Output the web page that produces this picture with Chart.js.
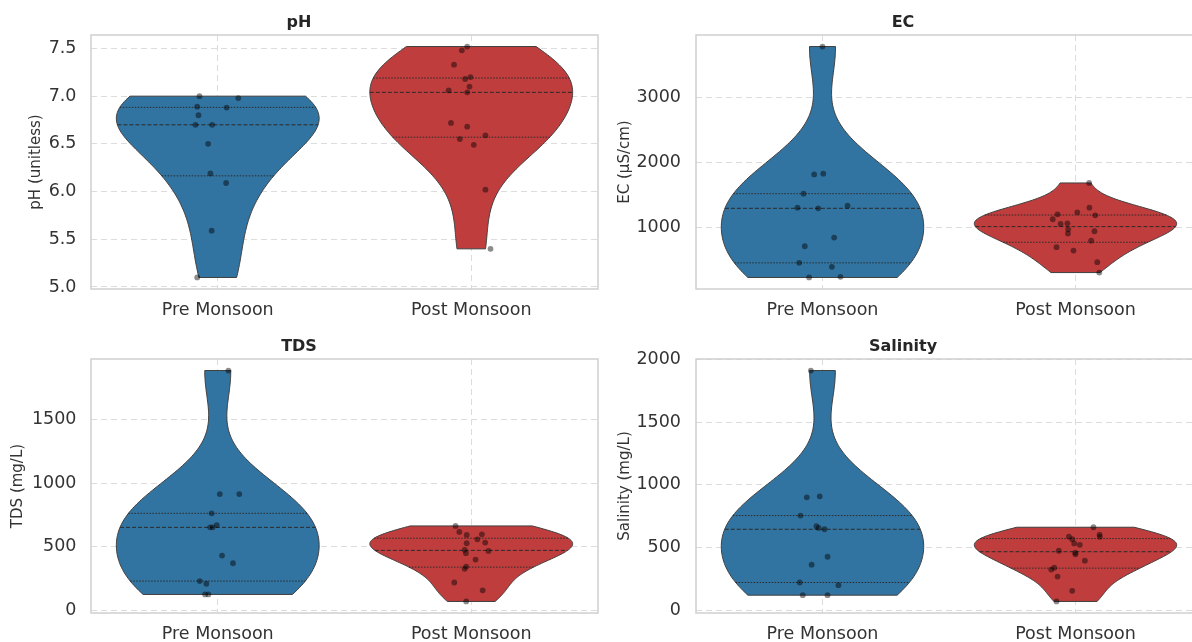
<!DOCTYPE html>
<html>
<head>
<meta charset="utf-8">
<script src="https://cdn.jsdelivr.net/npm/chart.js@4.4.1/dist/chart.umd.min.js"></script>
<style>
  html, body { margin: 0; padding: 0; background: #fff; overflow: hidden; width: 1192px; height: 642px; }
  .panel { position: absolute; }
</style>
</head>
<body>
<div class="panel" style="left:0;top:0"><canvas id="c1" width="604" height="322"></canvas></div>
<div class="panel" style="left:604px;top:0"><canvas id="c2" width="604" height="322"></canvas></div>
<div class="panel" style="left:0;top:322px"><canvas id="c3" width="604" height="330"></canvas></div>
<div class="panel" style="left:604px;top:322px"><canvas id="c4" width="604" height="330"></canvas></div>

<script>
// categories
const groups = ['Pre Monsoon', 'Post Monsoon'];

// pH (unitless)
const phPre = [7.0, 6.98, 6.89, 6.88, 6.8, 6.7, 6.7, 6.5, 6.19, 6.09, 5.59, 5.1];
const phPreJit = [-0.072, 0.081, -0.081, 0.035, -0.076, -0.088, -0.022, -0.038, -0.029, 0.033, -0.024, -0.081];
const phPost = [7.52, 7.48, 7.33, 7.2, 7.18, 7.1, 7.06, 7.04, 6.72, 6.68, 6.59, 6.55, 6.49, 6.02, 5.4];
const phPostJit = [-0.016, -0.037, -0.068, -0.003, -0.024, -0.007, -0.089, -0.016, -0.08, -0.016, 0.056, -0.045, 0.01, 0.056, 0.076];
const phTicks = [5.0, 5.5, 6.0, 6.5, 7.0, 7.5];

// EC (µS/cm)
const ecPre = [3778, 1816, 1827, 1520, 1306, 1296, 1337, 847, 714, 459, 398, 235, 245];
const ecPreJit = [0, -0.033, 0.003, -0.075, -0.099, -0.017, 0.099, 0.046, -0.07, -0.092, 0.037, -0.053, 0.071];
const ecPost = [1685, 1306, 1235, 1204, 1189, 1128, 1056, 1066, 974, 908, 944, 800, 700, 648, 469, 310];
const ecPostJit = [0.054, 0.055, 0.007, -0.071, 0.078, -0.09, -0.059, -0.032, -0.029, -0.03, 0.075, 0.062, -0.075, -0.008, 0.086, 0.094];
const ecTicks = [1000, 2000, 3000];

// TDS (mg/L)
const tdsPre = [1883, 913, 913, 762, 652, 652, 670, 430, 370, 230, 209, 125, 125];
const tdsPreJit = [0.042, 0.008, 0.085, -0.024, -0.03, -0.02, -0.004, 0.017, 0.06, -0.071, -0.045, -0.05, -0.037];
const tdsPost = [663, 616, 592, 558, 597, 527, 532, 475, 449, 467, 399, 344, 326, 219, 157, 70];
const tdsPostJit = [-0.062, -0.047, -0.018, 0.024, 0.042, -0.018, 0.055, -0.026, -0.021, 0.068, 0.017, -0.02, -0.026, -0.067, 0.045, -0.02];
const tdsTicks = [0, 500, 1000, 1500];

// Salinity (mg/L)
const salPre = [1910, 900, 908, 755, 670, 657, 646, 427, 364, 222, 201, 121, 121];
const salPreJit = [-0.046, -0.062, -0.011, -0.087, -0.024, -0.015, 0.008, 0.02, -0.043, -0.09, 0.063, -0.078, 0.02];
const salPost = [662, 604, 586, 588, 567, 533, 522, 475, 459, 446, 396, 340, 325, 269, 156, 71];
const salPostJit = [0.071, 0.095, 0.096, -0.026, -0.013, -0.005, 0.017, -0.066, -0.001, 0, 0.037, -0.084, -0.096, -0.071, -0.013, -0.075];
const salTicks = [0, 500, 1000, 1500, 2000];

const fills = ['#3274a1', '#c03d3e'];
const edgeColor = '#3f3f3f';

Chart.defaults.font.family = "'DejaVu Sans', sans-serif";
Chart.defaults.color = '#333';

// gaussian kde, scott bandwidth, cut at data range (like seaborn cut=0)
function kde(vals) {
  const n = vals.length;
  const mean = vals.reduce((a, b) => a + b, 0) / n;
  const sd = Math.sqrt(vals.reduce((a, b) => a + (b - mean) ** 2, 0) / (n - 1));
  const bw = sd * Math.pow(n, -0.2);
  const dens = y => vals.reduce((a, v) => a + Math.exp(-0.5 * ((y - v) / bw) ** 2), 0);
  const lo = Math.min(...vals), hi = Math.max(...vals);
  const ys = [], ds = [];
  for (let i = 0; i < 100; i++) {
    const y = lo + (hi - lo) * i / 99;
    ys.push(y);
    ds.push(dens(y));
  }
  return { ys, ds, dmax: Math.max(...ds), dens };
}

function quantile(vals, q) {
  const s = [...vals].sort((a, b) => a - b);
  const pos = (s.length - 1) * q;
  const i = Math.floor(pos);
  return i + 1 < s.length ? s[i] + (s[i + 1] - s[i]) * (pos - i) : s[i];
}

function violinPlugin(series) {
  return {
    id: 'violin',
    beforeDatasetsDraw(chart) {
      const { ctx, scales: { x, y } } = chart;
      series.forEach((vals, gi) => {
        const k = kde(vals);
        ctx.save();
        ctx.beginPath();
        k.ys.forEach((v, i) => {
          const px = x.getPixelForValue(gi + 0.4 * k.ds[i] / k.dmax);
          const py = y.getPixelForValue(v);
          i ? ctx.lineTo(px, py) : ctx.moveTo(px, py);
        });
        for (let i = k.ys.length - 1; i >= 0; i--) {
          ctx.lineTo(x.getPixelForValue(gi - 0.4 * k.ds[i] / k.dmax), y.getPixelForValue(k.ys[i]));
        }
        ctx.closePath();
        ctx.fillStyle = fills[gi];
        ctx.fill();
        ctx.strokeStyle = edgeColor;
        ctx.lineWidth = 1;
        ctx.stroke();

        // quartile lines
        [0.25, 0.5, 0.75].forEach(q => {
          const qv = quantile(vals, q);
          const half = 0.4 * k.dens(qv) / k.dmax;
          const py = y.getPixelForValue(qv);
          ctx.beginPath();
          ctx.setLineDash(q === 0.5 ? [4, 2] : [1.5, 1.5]);
          ctx.strokeStyle = '#2a2a2a';
          ctx.lineWidth = 1;
          ctx.moveTo(x.getPixelForValue(gi - half), py);
          ctx.lineTo(x.getPixelForValue(gi + half), py);
          ctx.stroke();
        });
        ctx.restore();
      });
    },
    afterDatasetsDraw(chart) {
      const { ctx, chartArea: a } = chart;
      ctx.save();
      ctx.strokeStyle = '#cfcfcf';
      ctx.lineWidth = 1.5;
      ctx.strokeRect(a.left, a.top, a.right - a.left, a.bottom - a.top);
      ctx.restore();
    }
  };
}

const panels = [
  { id: 'c1', title: 'pH', yLabel: 'pH (unitless)', pre: phPre, preJit: phPreJit, post: phPost, postJit: phPostJit,
    ticks: phTicks, dec: 1, yW: 91, yTitlePad: 27, tickPad: 14.5, titlePad: { top: 13.4, bottom: 2.4 }, xH: 33, xPad: 11.3 },
  { id: 'c2', title: 'EC', yLabel: 'EC (µS/cm)', pre: ecPre, preJit: ecPreJit, post: ecPost, postJit: ecPostJit,
    ticks: ecTicks, dec: 0, yW: 92, yTitlePad: 11.7, tickPad: 15, titlePad: { top: 13.4, bottom: 2.4 }, xH: 33, xPad: 11.3 },
  { id: 'c3', title: 'TDS', yLabel: 'TDS (mg/L)', pre: tdsPre, preJit: tdsPreJit, post: tdsPost, postJit: tdsPostJit,
    ticks: tdsTicks, dec: 0, yW: 91, yTitlePad: 9.5, tickPad: 14.5, titlePad: { top: 14.9, bottom: 2.9 }, xH: 39, xPad: 10.5 },
  { id: 'c4', title: 'Salinity', yLabel: 'Salinity (mg/L)', pre: salPre, preJit: salPreJit, post: salPost, postJit: salPostJit,
    ticks: salTicks, dec: 0, yW: 92, yTitlePad: 11.7, tickPad: 15, titlePad: { top: 14.9, bottom: 2.9 }, xH: 39, xPad: 10.5 }
];

panels.forEach(p => {
  const all = p.pre.concat(p.post);
  const lo = Math.min(...all), hi = Math.max(...all);
  const margin = (hi - lo) * 0.05;

  const pts = (vals, jit, gi) => vals.map((v, i) => ({ x: gi + jit[i], y: v }));

  new Chart(document.getElementById(p.id), {
    type: 'scatter',
    data: {
      datasets: [
        { data: pts(p.pre, p.preJit, 0) },
        { data: pts(p.post, p.postJit, 1) }
      ]
    },
    options: {
      responsive: false,
      animation: false,
      layout: { padding: { left: 0, right: 6, top: 0, bottom: 0 } },
      elements: {
        point: { radius: 2.9, backgroundColor: 'rgba(0,0,0,0.45)', borderWidth: 0, hoverRadius: 2.9 }
      },
      plugins: {
        legend: { display: false },
        tooltip: { enabled: false },
        title: {
          display: true, text: p.title, color: '#262626',
          font: { size: 16, weight: 'bold' }, padding: p.titlePad
        }
      },
      scales: {
        x: {
          type: 'linear', min: -0.5, max: 1.5,
          afterBuildTicks: s => { s.ticks = [{ value: 0 }, { value: 1 }]; },
          afterFit: s => { s.height = p.xH; },
          ticks: { callback: v => groups[v], font: { size: 17.5 }, color: '#333', padding: p.xPad, maxRotation: 0 },
          grid: { color: '#dcdcdc', lineWidth: 1, drawTicks: false },
          border: { display: false, dash: [6, 4] }
        },
        y: {
          type: 'linear', min: lo - margin, max: hi + margin,
          afterBuildTicks: s => { s.ticks = p.ticks.map(v => ({ value: v })); },
          afterFit: s => { s.width = p.yW; },
          ticks: { callback: v => p.dec ? v.toFixed(p.dec) : String(v), font: { size: 17.5 }, color: '#333', padding: p.tickPad },
          grid: { color: '#dcdcdc', lineWidth: 1, drawTicks: false },
          border: { display: false, dash: [6, 4] },
          title: { display: true, text: p.yLabel, font: { size: 15 }, color: '#333', padding: { top: p.yTitlePad, bottom: 0 } }
        }
      }
    },
    plugins: [violinPlugin([p.pre, p.post])]
  });
});
</script>
</body>
</html>
